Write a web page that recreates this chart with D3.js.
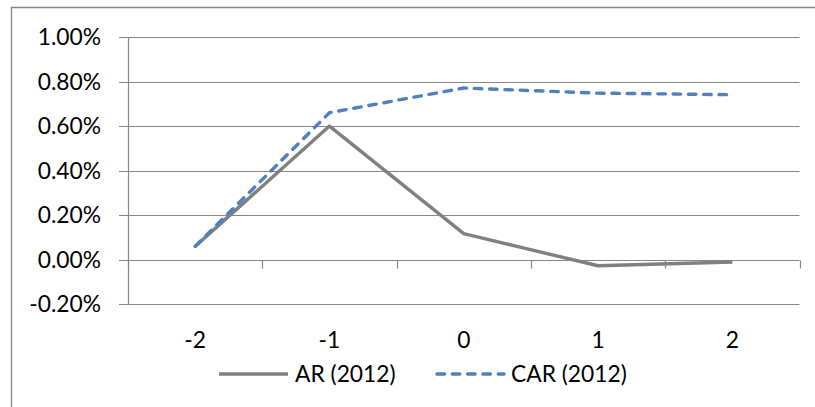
<!DOCTYPE html>
<html><head><meta charset="utf-8">
<script src="https://cdn.jsdelivr.net/npm/d3@7"></script>
<style>body{margin:0;background:#fff}svg{display:block}</style>
</head><body>
<svg id="c" width="815" height="407"></svg>
<script>
const categories = ["-2", "-1", "0", "1", "2"];
const arValues = [0.0006, 0.0060, 0.00117, -0.00027, -0.0001];
const carValues = [0.0006, 0.0066, 0.00771, 0.00748, 0.00741];
const yTicks = [-0.002, 0, 0.002, 0.004, 0.006, 0.008, 0.010];
const seriesNames = ["AR (2012)", "CAR (2012)"];

(function () {
const svg = d3.select("#c");
const W = 815, H = 407;
const pL = 128, pR = 799.5, pT = 37, pB = 304.3;
const font = "Lato, 'Open Sans', sans-serif";
const fs = 22.8;
const grey = "#868686";

// outer border (top & left visible)
svg.append("path").attr("d", `M11.5,${H} V7.5 H${W}`).attr("fill", "none").attr("stroke", grey).attr("stroke-width", 1.3);

const x = d3.scaleBand().domain(categories).range([pL, pR]).padding(0);
const y = d3.scaleLinear().domain([-0.002, 0.010]).range([pB, pT]);

// gridlines
svg.append("g").selectAll("line").data(yTicks).join("line")
  .attr("x1", pL - 9).attr("x2", pR)
  .attr("y1", d => Math.round(y(d)) + 0.5).attr("y2", d => Math.round(y(d)) + 0.5)
  .attr("stroke", grey).attr("stroke-width", 1.2);

// y axis line
svg.append("line").attr("x1", pL + 0.5).attr("x2", pL + 0.5).attr("y1", pT).attr("y2", pB + 0.5)
  .attr("stroke", grey).attr("stroke-width", 1.2);

// y labels
const fmt = d => d3.format(".2%")(d).replace("\u2212", "-");
svg.append("g").selectAll("text").data(yTicks).join("text")
  .attr("x", 101).attr("y", d => y(d)).attr("dy", "0.35em")
  .attr("text-anchor", "end").attr("font-family", font).attr("font-size", fs).attr("fill", "#000")
  .text(d => fmt(d));

// x axis at zero with ticks at boundaries
const y0 = Math.round(y(0)) + 0.5;
const bounds = categories.map(c => x(c)).concat([pR]);
svg.append("g").selectAll("line").data(bounds).join("line")
  .attr("x1", d => Math.round(d) + 0.5).attr("x2", d => Math.round(d) + 0.5)
  .attr("y1", y0).attr("y2", y0 + 8).attr("stroke", grey).attr("stroke-width", 1.2);

// x labels
svg.append("g").selectAll("text").data(categories).join("text")
  .attr("x", d => x(d) + x.bandwidth() / 2).attr("y", 340).attr("dy", "0.35em")
  .attr("text-anchor", "middle").attr("font-family", font).attr("font-size", fs).attr("fill", "#000")
  .text(d => d);

const line = d3.line().x((d, i) => x(categories[i]) + x.bandwidth() / 2).y(d => y(d));

svg.append("path").datum(arValues).attr("d", line).attr("fill", "none")
  .attr("stroke", "#808080").attr("stroke-width", 3.4).attr("stroke-linejoin", "round");
svg.append("path").datum(carValues).attr("d", line).attr("fill", "none")
  .attr("stroke", "#4F81BD").attr("stroke-width", 3.4).attr("stroke-linejoin", "round")
  .attr("stroke-linecap", "round").attr("stroke-dasharray", "7.5,7.8");

// legend
const ly = 374;
svg.append("line").attr("x1", 219).attr("x2", 288).attr("y1", ly).attr("y2", ly)
  .attr("stroke", "#808080").attr("stroke-width", 3.4);
svg.append("text").attr("x", 295).attr("y", ly).attr("dy", "0.35em")
  .attr("font-family", font).attr("font-size", fs).text(seriesNames[0]);
svg.append("line").attr("x1", 437).attr("x2", 504).attr("y1", ly).attr("y2", ly)
  .attr("stroke", "#4F81BD").attr("stroke-width", 3.4).attr("stroke-linecap", "round").attr("stroke-dasharray", "7.5,7.8");
svg.append("text").attr("x", 511).attr("y", ly).attr("dy", "0.35em")
  .attr("font-family", font).attr("font-size", fs).text(seriesNames[1]);
})();
</script>
</body></html>
